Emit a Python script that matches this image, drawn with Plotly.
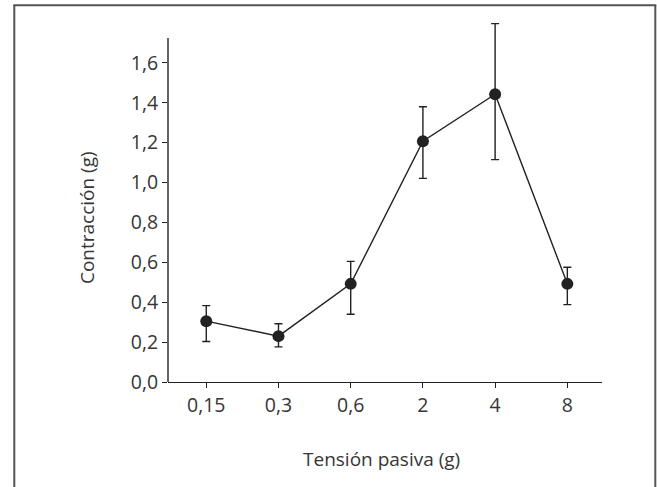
import plotly.graph_objects as go

categories = ["0,15", "0,3", "0,6", "2", "4", "8"]
contraccion = [0.305, 0.230, 0.492, 1.207, 1.443, 0.492]
err_plus = [0.078, 0.062, 0.113, 0.173, 0.354, 0.083]
err_minus = [0.102, 0.054, 0.152, 0.186, 0.328, 0.104]
y_ticks = [0.0, 0.2, 0.4, 0.6, 0.8, 1.0, 1.2, 1.4, 1.6]
y_ticklabels = ["0,0", "0,2", "0,4", "0,6", "0,8", "1,0", "1,2", "1,4", "1,6"]
x_title = "Tensión pasiva (g)"
y_title = "Contracción (g)"
y_axis_top = 1.725
y_range_top = 1.83

W, H = 657, 487
L, R, B = 168, 602, 382.5
PX_PER_UNIT = 199.5
T = B - y_range_top * PX_PER_UNIT

FONT = "Open Sans"
TXT = "#363636"
INK = "#222222"
FS = 19.5

fig = go.Figure()
fig.add_trace(go.Scatter(
    x=categories, y=contraccion, mode="lines+markers",
    line=dict(color=INK, width=1.4),
    marker=dict(color=INK, size=12),
    error_y=dict(type="data", symmetric=False, array=err_plus, arrayminus=err_minus,
                 color=INK, thickness=1.4, width=4),
    cliponaxis=False,
    showlegend=False, hoverinfo="skip",
))

def px_x(p):
    return (p - L) / (R - L)

def px_y(p):
    return (B - p) / (B - T)

frame = dict(color="#555555", width=2)
fig.add_shape(type="line", xref="paper", yref="paper", x0=px_x(14.3), x1=px_x(14.3), y0=px_y(5.7), y1=px_y(500), line=frame)
fig.add_shape(type="line", xref="paper", yref="paper", x0=px_x(655.3), x1=px_x(655.3), y0=px_y(5.7), y1=px_y(500), line=frame)
fig.add_shape(type="line", xref="paper", yref="paper", x0=px_x(13.3), x1=px_x(656.3), y0=px_y(5.7), y1=px_y(5.7), line=frame)
# y axis line, ending at the axis top
fig.add_shape(type="line", xref="paper", yref="y", x0=0, x1=0, y0=0, y1=y_axis_top,
              line=dict(color=INK, width=1.4))

fig.add_annotation(text=x_title, xref="paper", yref="paper", x=px_x(381.7), y=px_y(459.5),
                   xanchor="center", yanchor="middle", showarrow=False,
                   font=dict(family=FONT, size=19, color=TXT))
fig.add_annotation(text=y_title, xref="paper", yref="paper", x=px_x(86.5), y=px_y(218),
                   xanchor="center", yanchor="middle", showarrow=False, textangle=-90,
                   font=dict(family=FONT, size=19, color=TXT))

fig.update_layout(
    width=W, height=H,
    margin=dict(l=L, r=W - R, t=T, b=H - B, pad=0),
    paper_bgcolor="white", plot_bgcolor="white",
    font=dict(family=FONT, size=FS, color=TXT),
    xaxis=dict(
        type="category", range=[-0.53, 5.48],
        showline=True, linecolor=INK, linewidth=1.4,
        ticks="outside", ticklen=5, tickwidth=1.4, tickcolor=INK,
        showgrid=False, zeroline=False,
        tickfont=dict(size=FS, color=TXT),
    ),
    yaxis=dict(
        range=[0, y_range_top],
        tickvals=y_ticks, ticktext=y_ticklabels,
        showline=False,
        ticks="outside", ticklen=5, tickwidth=1.4, tickcolor=INK,
        showgrid=False, zeroline=False,
        tickfont=dict(size=FS, color=TXT),
    ),
)

fig.write_html("out.html", config={"displayModeBar": False},
               post_script="document.body.style.margin='0';document.body.style.overflow='hidden';")
